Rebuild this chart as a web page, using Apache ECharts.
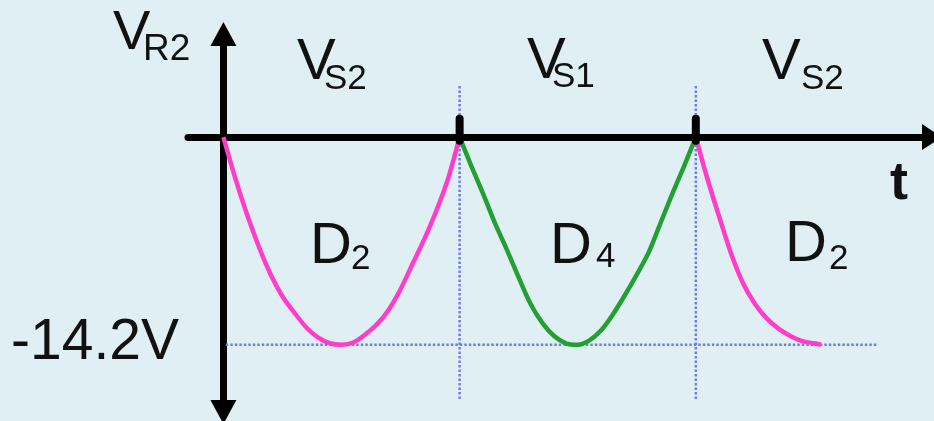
<!DOCTYPE html>
<html>
<head>
<meta charset="utf-8">
<script src="https://cdn.jsdelivr.net/npm/echarts@6/dist/echarts.min.js"></script>
<style>
  html, body { margin: 0; padding: 0; background: #e0eff3; }
  #chart { width: 934px; height: 421px; }
</style>
</head>
<body>
<div id="chart"></div>
<script>
// Full-wave rectifier: voltage across R2 over time (t in half-cycles of 10 units)
const peakVoltage = -14.2;

// Half-cycle 1: D2 conducts (source VS2)
const d2FirstT = [0, 0.5, 1, 1.5, 2, 2.5, 3, 3.5, 4, 4.5, 5, 5.5, 6, 6.5, 7, 7.5, 8, 8.5, 9, 9.5, 10];
const d2FirstV = [0, -2.8, -5.3, -7.5, -9.4, -10.9, -12.0, -13.0, -13.7, -14.1, -14.2, -14.05, -13.5, -12.8, -11.8, -10.4, -8.7, -7.0, -5.1, -2.9, 0];

// Half-cycle 2: D4 conducts (source VS1)
const d4T = [10, 10.5, 11, 11.5, 12, 12.5, 13, 13.5, 14, 14.5, 15, 15.5, 16, 16.5, 17, 17.5, 18, 18.5, 19, 19.5, 20];
const d4V = [0, -2.0, -3.9, -5.9, -7.7, -9.6, -11.4, -12.7, -13.6, -14.1, -14.2, -13.9, -13.2, -12.1, -10.8, -9.4, -7.9, -5.9, -3.9, -2.0, 0];

// Half-cycle 3 (partial): D2 conducts again (source VS2)
const d2SecondT = [20, 20.5, 21, 21.5, 22, 22.5, 23, 23.5, 24, 24.5, 25, 25.3];
const d2SecondV = [0, -2.9, -5.5, -8.0, -10.0, -11.4, -12.4, -13.1, -13.6, -13.95, -14.1, -14.2];

// Boundaries between conduction intervals
const boundaryT = [10, 20];

const pair = (xs, ys) => xs.map((x, i) => [x, ys[i]]);

const chart = echarts.init(document.getElementById('chart'), null, { renderer: 'canvas' });

const dotted = { color: '#6d7ff0', width: 2.5, type: [2.5, 2] };

const guideSeries = [];
boundaryT.forEach((t) => {
  guideSeries.push({
    type: 'line', data: [[t, 3.5], [t, -18.0]], symbol: 'none', silent: true,
    lineStyle: dotted, z: 1
  });
});
guideSeries.push({
  type: 'line', data: [[0.1, peakVoltage], [27.7, peakVoltage]], symbol: 'none', silent: true,
  lineStyle: dotted, z: 1
});

const tickSeries = boundaryT.map((t) => ({
  type: 'line', data: [[t, -0.25], [t, 1.25]], symbol: 'none', silent: true,
  lineStyle: { color: '#000', width: 8, cap: 'round' }, z: 6
}));

const curve = (data, color) => ({
  type: 'line', data, symbol: 'none', smooth: 0.3, silent: true,
  lineStyle: { color, width: 4.5, join: 'round' }, z: 4
});

const text = (str, x, y, size, bold) => ({
  type: 'text', x, y, z: 10,
  style: {
    text: str, fill: '#111',
    font: (bold ? 'bold ' : '') + size + 'px "Liberation Sans", Arial, sans-serif',
    textAlign: 'left', textVerticalAlign: 'top'
  }
});

chart.setOption({
  backgroundColor: '#e0eff3',
  animation: false,
  grid: { left: 188, right: 2, top: 34, bottom: 9 },
  xAxis: {
    type: 'value', min: -1.5, max: 30,
    axisLine: {
      onZero: true, symbol: ['none', 'triangle'], symbolSize: [26, 20],
      lineStyle: { color: '#000', width: 7 }
    },
    axisTick: { show: false }, axisLabel: { show: false }, splitLine: { show: false }
  },
  yAxis: {
    type: 'value', min: -18.8, max: 7.05,
    axisLine: {
      show: true, onZero: true, symbol: ['triangle', 'triangle'], symbolSize: [26, 24],
      lineStyle: { color: '#000', width: 7 }
    },
    axisTick: { show: false }, axisLabel: { show: false }, splitLine: { show: false }
  },
  series: [
    ...guideSeries,
    curve(pair(d2FirstT, d2FirstV), '#ff3dca'),
    curve(pair(d4T, d4V), '#22a033'),
    curve(pair(d2SecondT, d2SecondV), '#ff3dca'),
    ...tickSeries
  ],
  graphic: [
    text('V', 113, 6, 56),
    text('R2', 143, 31, 37),
    text('V', 297, 34, 58),
    text('S2', 324, 62, 35),
    text('V', 527, 33, 58),
    text('S1', 552, 60, 35),
    text('V', 762, 34, 58),
    text('S2', 801, 62, 35),
    text('D', 310, 218, 58),
    text('2', 351, 242, 35),
    text('D', 550, 218, 58),
    text('4', 596, 240, 35),
    text('D', 785, 216, 58),
    text('2', 829, 242, 35),
    text('-14.2V', 11, 315, 57),
    text('t', 890, 157, 54, true)
  ]
});
</script>
</body>
</html>
